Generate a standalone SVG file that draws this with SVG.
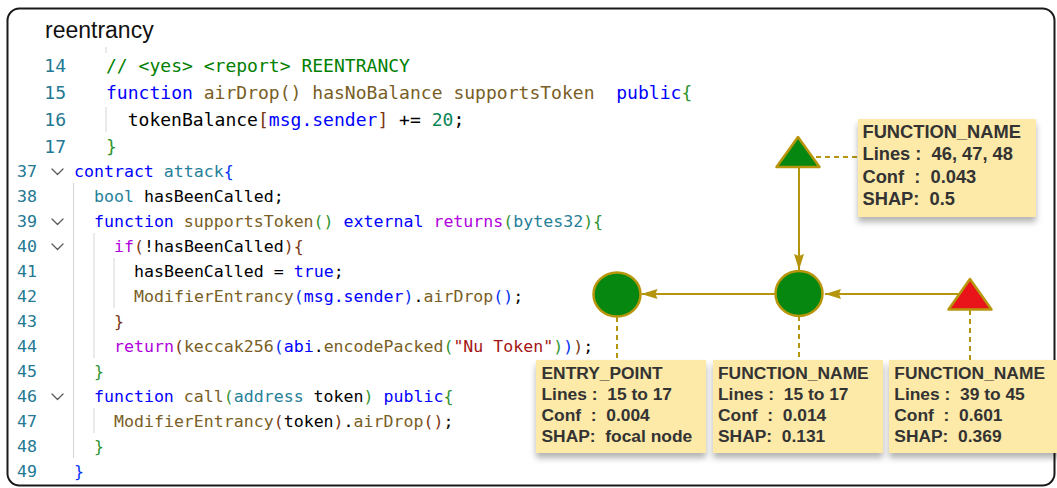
<svg xmlns="http://www.w3.org/2000/svg" width="1057" height="488" viewBox="0 0 1057 488">
  <style>
    .code { font-family: "DejaVu Sans Mono", "Liberation Mono", monospace; white-space: pre; fill: #000000; }
    .top { font-size: 18.04px; }
    .bot { font-size: 16.58px; }
    .ln { font-family: "DejaVu Sans Mono", "Liberation Mono", monospace; fill: #237893; text-anchor: end; }
    .cm { fill: #008000; }
    .kw { fill: #0000ff; }
    .fn { fill: #795e26; }
    .ty { fill: #267f99; }
    .ctl { fill: #af00db; }
    .num { fill: #098658; }
    .str { fill: #a31515; }
    .b1 { fill: #0431fa; }
    .b2 { fill: #319331; }
    .b3 { fill: #7b3814; }
    .guide { stroke: #d4d4d4; stroke-width: 1; }
    .fold { fill: none; stroke: #5a5a5a; stroke-width: 1.3; stroke-linecap: round; stroke-linejoin: round; }
    .edge { fill: none; stroke: #b5950e; stroke-width: 2; }
    .dash { fill: none; stroke: #b5950e; stroke-width: 2; stroke-dasharray: 5 4; }
    .shape { stroke: #b8960c; stroke-width: 2.5; stroke-linejoin: round; }
    .ok { fill: #06870f; }
    .bad { fill: #e8141a; }
    .card { fill: #fde9a8; filter: url(#shadow); }
    .info { font-family: "Liberation Sans", Arial, sans-serif; font-weight: bold; fill: #333333; white-space: pre; }
  </style>
  <defs>
    <marker id="arrow" viewBox="0 0 16 10" refX="16" refY="5" markerWidth="16" markerHeight="10" markerUnits="userSpaceOnUse" orient="auto">
      <path d="M0,0 L16,5 L0,10 L2,5 z" fill="#b5950e"/>
    </marker>
    <filter id="shadow" x="-10%" y="-10%" width="120%" height="140%">
      <feDropShadow dx="0" dy="5" stdDeviation="3" flood-color="#000000" flood-opacity="0.3"/>
    </filter>
  </defs>

  <rect width="1057" height="488" fill="#ffffff"/>
  <!-- outer frame -->
  <rect x="7.5" y="8.5" width="1047" height="477" rx="12" fill="none" stroke="#1a1a1a" stroke-width="2"/>

  <text x="45" y="38" font-family="Liberation Sans, Arial, sans-serif" font-size="23" fill="#111111">reentrancy</text>

  <!-- source: airDrop excerpt -->
  <g id="code-top">
    <line class="guide" x1="106" y1="47" x2="106" y2="53"/>
    <line class="guide" x1="106" y1="107" x2="106" y2="132"/>
    <text class="ln top" x="66" y="71.5">14</text>
    <text class="ln top" x="66" y="98.5">15</text>
    <text class="ln top" x="66" y="125.5">16</text>
    <text class="ln top" x="66" y="152.5">17</text>
    <text class="code top" x="106" y="71.5"><tspan class="cm">// &lt;yes&gt; &lt;report&gt; REENTRANCY</tspan></text>
    <text class="code top" x="106" y="98.5"><tspan class="kw">function</tspan> <tspan class="fn">airDrop() hasNoBalance supportsToken</tspan>  <tspan class="kw">public</tspan><tspan class="b2">{</tspan></text>
    <text class="code top" x="127.7" y="125.5">tokenBalance<tspan class="b3">[</tspan><tspan class="kw">msg.sender</tspan><tspan class="b3">]</tspan> += <tspan class="num">20</tspan>;</text>
    <text class="code top" x="106" y="152.5"><tspan class="b2">}</tspan></text>
  </g>

  <!-- source: attack contract -->
  <g id="code-attack">
    <line class="guide" x1="73.5" y1="183" x2="73.5" y2="458"/>
    <line class="guide" x1="94" y1="233" x2="94" y2="358"/>
    <line class="guide" x1="94" y1="408" x2="94" y2="433"/>
    <line class="guide" x1="114" y1="258" x2="114" y2="308"/>
    <path class="fold" d="M52,169 L57.5,174.5 L63,169"/>
    <path class="fold" d="M52,219 L57.5,224.5 L63,219"/>
    <path class="fold" d="M52,244 L57.5,249.5 L63,244"/>
    <path class="fold" d="M52,394 L57.5,399.5 L63,394"/>
    <text class="ln bot" x="37" y="176.5">37</text>
    <text class="ln bot" x="37" y="201.5">38</text>
    <text class="ln bot" x="37" y="226.5">39</text>
    <text class="ln bot" x="37" y="251.5">40</text>
    <text class="ln bot" x="37" y="276.5">41</text>
    <text class="ln bot" x="37" y="301.5">42</text>
    <text class="ln bot" x="37" y="326.5">43</text>
    <text class="ln bot" x="37" y="351.5">44</text>
    <text class="ln bot" x="37" y="376.5">45</text>
    <text class="ln bot" x="37" y="401.5">46</text>
    <text class="ln bot" x="37" y="426.5">47</text>
    <text class="ln bot" x="37" y="451.5">48</text>
    <text class="ln bot" x="37" y="476.5">49</text>
    <text class="code bot" x="74" y="176.5"><tspan class="kw">contract</tspan> <tspan class="ty">attack</tspan><tspan class="b1">{</tspan></text>
    <text class="code bot" x="94" y="201.5"><tspan class="ty">bool</tspan> hasBeenCalled;</text>
    <text class="code bot" x="94" y="226.5"><tspan class="kw">function</tspan> <tspan class="fn">supportsToken</tspan><tspan class="b2">()</tspan> <tspan class="kw">external</tspan> <tspan class="ctl">returns</tspan><tspan class="b2">(</tspan><tspan class="ty">bytes32</tspan><tspan class="b2">){</tspan></text>
    <text class="code bot" x="114" y="251.5"><tspan class="ctl">if</tspan><tspan class="b3">(</tspan>!hasBeenCalled<tspan class="b3">){</tspan></text>
    <text class="code bot" x="134" y="276.5">hasBeenCalled = <tspan class="kw">true</tspan>;</text>
    <text class="code bot" x="134" y="301.5"><tspan class="fn">ModifierEntrancy</tspan><tspan class="b1">(</tspan><tspan class="kw">msg.sender</tspan><tspan class="b1">)</tspan>.<tspan class="fn">airDrop</tspan><tspan class="b1">()</tspan>;</text>
    <text class="code bot" x="114" y="326.5"><tspan class="b3">}</tspan></text>
    <text class="code bot" x="114" y="351.5"><tspan class="ctl">return</tspan><tspan class="b3">(</tspan><tspan class="fn">keccak256</tspan><tspan class="b1">(</tspan><tspan class="kw">abi</tspan>.<tspan class="fn">encodePacked</tspan><tspan class="b2">(</tspan><tspan class="str">"Nu Token"</tspan><tspan class="b2">)</tspan><tspan class="b1">)</tspan><tspan class="b3">)</tspan>;</text>
    <text class="code bot" x="94" y="376.5"><tspan class="b2">}</tspan></text>
    <text class="code bot" x="94" y="401.5"><tspan class="kw">function</tspan> <tspan class="fn">call</tspan><tspan class="b2">(</tspan><tspan class="ty">address</tspan> token<tspan class="b2">)</tspan> <tspan class="kw">public</tspan><tspan class="b2">{</tspan></text>
    <text class="code bot" x="114" y="426.5"><tspan class="fn">ModifierEntrancy</tspan><tspan class="b3">(</tspan>token<tspan class="b3">)</tspan>.<tspan class="fn">airDrop</tspan><tspan class="b3">()</tspan>;</text>
    <text class="code bot" x="94" y="451.5"><tspan class="b2">}</tspan></text>
    <text class="code bot" x="74" y="476.5"><tspan class="b1">}</tspan></text>
  </g>

  <!-- call graph edges and label leaders -->
  <g id="connectors">
    <path class="edge" d="M799,168 L799,270" marker-end="url(#arrow)"/>
    <path class="edge" d="M962,294 L825,294" marker-end="url(#arrow)"/>
    <path class="edge" d="M785,294 L641.5,294" marker-end="url(#arrow)"/>
    <path class="dash" d="M816,157 L858,157"/>
    <path class="dash" d="M617,317 L617,360"/>
    <path class="dash" d="M799,316 L799,360"/>
    <path class="dash" d="M970,310 L970,360"/>
  </g>

  <g id="node-call">
    <path class="shape ok" d="M798,137 L819.5,167 L776.5,167 Z"/>
  </g>
  <g id="node-airdrop">
    <ellipse class="shape ok" cx="799" cy="293.5" rx="23.5" ry="22.5"/>
  </g>
  <g id="node-entry">
    <ellipse class="shape ok" cx="617" cy="294.5" rx="23.5" ry="22"/>
  </g>
  <g id="node-supports">
    <path class="shape bad" d="M970,279 L991.5,309.5 L948.5,309.5 Z"/>
  </g>

  <g id="label-call">
    <rect class="card" x="858" y="119" width="178" height="98"/>
    <text class="info" font-size="18.3" x="862.5" y="137.7">FUNCTION_NAME</text>
    <text class="info" font-size="18.3" x="862.5" y="160.3">Lines :  46, 47, 48</text>
    <text class="info" font-size="18.3" x="862.5" y="182.7">Conf  :  0.043</text>
    <text class="info" font-size="18.3" x="862.5" y="205">SHAP:  0.5</text>
  </g>
  <g id="label-entry">
    <rect class="card" x="536" y="360" width="170" height="93"/>
    <text class="info" font-size="17.4" x="541.5" y="379.4">ENTRY_POINT</text>
    <text class="info" font-size="17.4" x="541.5" y="400.3">Lines :  15 to 17</text>
    <text class="info" font-size="17.4" x="541.5" y="421.1">Conf  :  0.004</text>
    <text class="info" font-size="17.4" x="541.5" y="441.9">SHAP:  focal node</text>
  </g>
  <g id="label-airdrop">
    <rect class="card" x="713" y="360" width="170" height="93"/>
    <text class="info" font-size="17.4" x="718" y="379.4">FUNCTION_NAME</text>
    <text class="info" font-size="17.4" x="718" y="400.3">Lines :  15 to 17</text>
    <text class="info" font-size="17.4" x="718" y="421.1">Conf  :  0.014</text>
    <text class="info" font-size="17.4" x="718" y="441.9">SHAP:  0.131</text>
  </g>
  <g id="label-supports">
    <rect class="card" x="889" y="360" width="172" height="93"/>
    <text class="info" font-size="17.4" x="894.3" y="379.4">FUNCTION_NAME</text>
    <text class="info" font-size="17.4" x="894.3" y="400.3">Lines :  39 to 45</text>
    <text class="info" font-size="17.4" x="894.3" y="421.1">Conf  :  0.601</text>
    <text class="info" font-size="17.4" x="894.3" y="441.9">SHAP:  0.369</text>
  </g>
</svg>
